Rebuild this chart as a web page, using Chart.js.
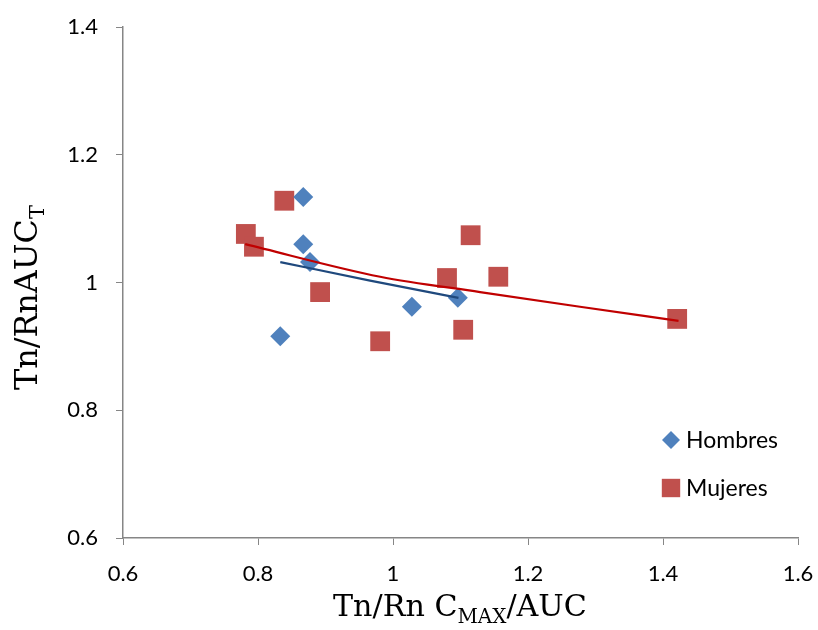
<!DOCTYPE html>
<html>
<head>
<meta charset="utf-8">
<script src="https://cdn.jsdelivr.net/npm/chart.js@4/dist/chart.umd.min.js"></script>
<style>
  html, body { margin: 0; padding: 0; background: #fff; }
  #wrap { width: 818px; height: 630px; }
</style>
</head>
<body>
<div id="wrap"><canvas id="c" width="818" height="630"></canvas></div>
<script>
// points
const hombresX = [0.867, 0.867, 0.877, 0.833, 1.028, 1.096];
const hombresY = [1.134, 1.060, 1.032, 0.916, 0.962, 0.976];
const mujeresX = [0.782, 0.794, 0.839, 0.892, 0.981, 1.080, 1.104, 1.115, 1.156, 1.421];
const mujeresY = [1.076, 1.056, 1.128, 0.985, 0.908, 1.007, 0.926, 1.074, 1.009, 0.943];

// trendlines
const trendHX = [0.833, 0.966, 1.097];
const trendHY = [1.032, 1.003, 0.976];
const trendMX = [0.781, 0.981, 1.129, 1.277, 1.423];
const trendMY = [1.060, 1.009, 0.985, 0.962, 0.940];

const xTicks = [0.6, 0.8, 1.0, 1.2, 1.4, 1.6];
const yTicks = [0.6, 0.8, 1.0, 1.2, 1.4];

const toPts = (xs, ys) => xs.map((x, i) => ({ x: x, y: ys[i] }));

const tickFont = { family: 'Lato, "Open Sans", sans-serif', size: 22 };
const axisGray = '#868686';
const serif = '"DejaVu Serif", serif';

// draws a run of [text, isSub] parts fitted to a given width
function drawSubText(ctx, parts, x0, y0, width) {
  const measure = size => {
    let w = 0;
    parts.forEach(p => {
      ctx.font = (p[1] ? size * 0.66 : size) + 'px ' + serif;
      w += ctx.measureText(p[0]).width;
    });
    return w;
  };
  const size = 27 * width / measure(27);
  let x = x0;
  parts.forEach(p => {
    ctx.font = (p[1] ? size * 0.66 : size) + 'px ' + serif;
    ctx.fillText(p[0], x, y0 + (p[1] ? size * 0.22 : 0));
    x += ctx.measureText(p[0]).width;
  });
}

// axis titles with subscripts + legend inside the plot
const extras = {
  id: 'extras',
  afterDraw(chart) {
    const ctx = chart.ctx;
    ctx.save();
    ctx.fillStyle = '#000';
    ctx.textBaseline = 'alphabetic';

    drawSubText(ctx, [['Tn/Rn C', false], ['MAX', true], ['/AUC', false]], 333, 616, 254);

    ctx.translate(37, 390);
    ctx.rotate(-Math.PI / 2);
    drawSubText(ctx, [['Tn/RnAUC', false], ['T', true]], 0, 0, 185);
    ctx.setTransform(1, 0, 0, 1, 0, 0);

    // legend
    ctx.font = '23px Lato, "Open Sans", sans-serif';
    ctx.textBaseline = 'middle';
    [0, 1].forEach((di, i) => {
      const ds = chart.data.datasets[di];
      const ly = 440 + i * 48;
      ctx.fillStyle = ds.backgroundColor;
      Chart.helpers.drawPoint(ctx, {
        pointStyle: ds.pointStyle,
        radius: di === 0 ? 9 : 13,
        borderWidth: 0
      }, 671, ly);
      ctx.fillStyle = '#000';
      ctx.fillText(ds.label, 686, ly + 1);
    });
    ctx.restore();
  }
};

new Chart(document.getElementById('c'), {
  type: 'scatter',
  data: {
    datasets: [
      {
        label: 'Hombres',
        data: toPts(hombresX, hombresY),
        pointStyle: 'rectRot',
        pointRadius: 10,
        pointHoverRadius: 10,
        backgroundColor: '#4F81BD',
        borderWidth: 0,
        order: 2
      },
      {
        label: 'Mujeres',
        data: toPts(mujeresX, mujeresY),
        pointStyle: 'rect',
        pointRadius: 14,
        pointHoverRadius: 14,
        backgroundColor: '#C0504D',
        borderWidth: 0,
        order: 3
      },
      {
        label: 'trend Hombres',
        data: toPts(trendHX, trendHY),
        showLine: true,
        pointRadius: 0,
        borderColor: '#1F497D',
        borderWidth: 2.2,
        cubicInterpolationMode: 'monotone',
        order: 1
      },
      {
        label: 'trend Mujeres',
        data: toPts(trendMX, trendMY),
        showLine: true,
        pointRadius: 0,
        borderColor: '#C00000',
        borderWidth: 2.2,
        cubicInterpolationMode: 'monotone',
        order: 0
      }
    ]
  },
  options: {
    responsive: false,
    animation: false,
    layout: { padding: { top: 27, right: 20, left: 0, bottom: 0 } },
    plugins: {
      legend: { display: false },
      tooltip: { enabled: false }
    },
    scales: {
      x: {
        type: 'linear',
        min: 0.6,
        max: 1.6,
        afterBuildTicks: s => { s.ticks = xTicks.map(v => ({ value: v })); },
        afterFit: s => { s.height = 92; s.paddingRight = 0; s.paddingLeft = 0; },
        ticks: {
          font: tickFont,
          color: '#000',
          padding: 16,
          callback: v => String(+v.toFixed(1))
        },
        grid: { drawOnChartArea: false, drawTicks: true, tickLength: 7, color: axisGray },
        border: { color: axisGray, width: 1.5 }
      },
      y: {
        type: 'linear',
        min: 0.6,
        max: 1.4,
        afterBuildTicks: s => { s.ticks = yTicks.map(v => ({ value: v })); },
        afterFit: s => { s.width = 123; s.paddingTop = 0; s.paddingBottom = 0; },
        ticks: {
          font: tickFont,
          color: '#000',
          padding: 18,
          callback: v => String(+v.toFixed(1))
        },
        grid: { drawOnChartArea: false, drawTicks: true, tickLength: 7, color: axisGray },
        border: { color: axisGray, width: 1.5 }
      }
    }
  },
  plugins: [extras]
});
</script>
</body>
</html>
